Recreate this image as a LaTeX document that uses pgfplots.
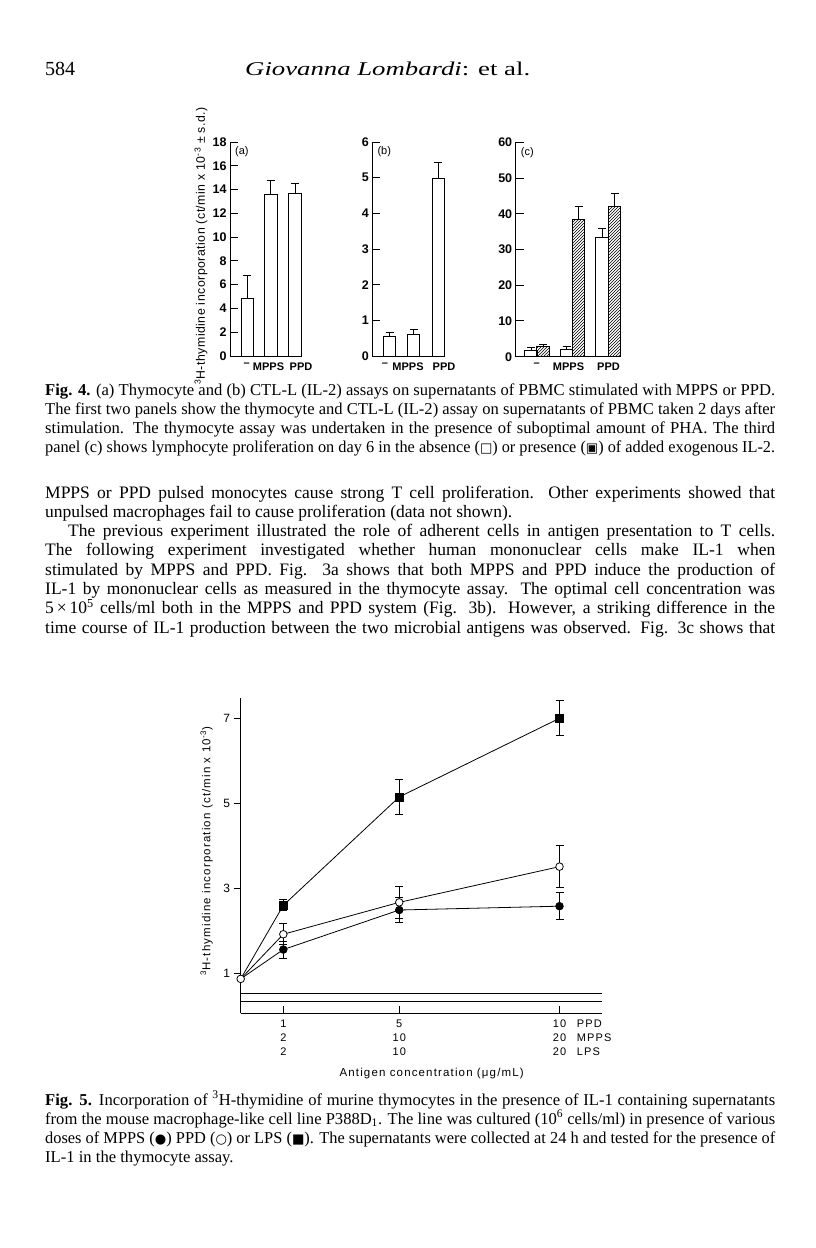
\documentclass[border=0pt]{standalone}
\usepackage{fontspec}
\setmainfont{Liberation Serif}
\newfontfamily\figfont{Liberation Sans}
\newfontfamily\figfontsp{Liberation Sans}[LetterSpace=10]
\newfontfamily\labfont{Liberation Sans}[LetterSpace=4]
\newfontfamily\symfont{DejaVu Sans}
\usepackage{graphicx}
\usepackage{pgfplots}
\pgfplotsset{compat=1.18}
\usetikzlibrary{patterns}

% justified line of a given width
\newsavebox\jbox
\newcommand\jline[2]{\sbox\jbox{#2}%
  \ifdim\wd\jbox>#1\relax\resizebox{#1}{\height}{\usebox\jbox}\else\makebox[#1][s]{#2}\fi}
\newcommand\bodyfont{\fontsize{17.5}{19}\selectfont}
\newcommand\capfont{\fontsize{16.6}{19}\selectfont}
\newcommand\sym[1]{{\symfont\scalebox{0.8}{#1}}}

\pgfplotsset{
  fig4/.style={
    scale only axis, anchor=south west,
    axis x line=bottom, axis y line=left,
    axis line style={-, line width=1pt},
    xmin=0, ymin=0, clip=false,
    tick align=inside, major tick length=8pt,
    ytick style={line width=1pt, black},
    xtick style={draw=none},
    /pgf/number format/assume math mode=true,
    yticklabel style={font=\figfont\bfseries\fontsize{12.5}{12}\selectfont},
    xticklabel style={font=\figfont\bfseries\fontsize{11}{11}\selectfont, yshift=-3pt},
    error bars/error bar style={line width=1pt},
    error bars/error mark options={line width=1pt, mark size=4pt, rotate=90},
  },
  bar/.style={ybar, bar shift=0pt, bar width=12.5, draw=black, line width=1pt},
  fig5/.style={
    scale only axis, anchor=south west,
    axis x line=bottom, axis y line=left,
    axis line style={-, line width=0.9pt},
    clip=false,
    tick align=outside, major tick length=7pt,
    ytick style={line width=0.9pt, black},
    xtick style={line width=0.9pt, black, yshift=7pt},
    /pgf/number format/assume math mode=true,
    yticklabel style={font=\figfont\fontsize{12}{12}\selectfont},
    xticklabel style={font=\figfontsp\fontsize{11}{14}\selectfont, align=center, yshift=4pt},
    error bars/error bar style={line width=1pt},
    error bars/error mark options={line width=1pt, mark size=4pt, rotate=90},
  },
}

\begin{document}
\begin{tikzpicture}
\begin{scope}[x=1pt,y=-1pt]
\fill[white] (0,0) rectangle (816,1248);
\path[use as bounding box] (0,0) rectangle (816,1248);

% running head
\node[anchor=base west, inner sep=0pt, font=\fontsize{20}{20}\selectfont] at (45,75) {584};
\node[anchor=base west, inner sep=0pt, font=\fontsize{19.5}{20}\selectfont] at (245,75) {\resizebox{285pt}{\height}{\textit{Giovanna Lombardi}: et al.}};

% caption of Fig. 4
\node[anchor=base west, inner sep=0pt, font=\capfont] at (45,395) {\jline{730pt}{\textbf{Fig. 4.} (a) Thymocyte and (b) CTL-L (IL-2) assays on supernatants of PBMC stimulated with MPPS or PPD.}};
\node[anchor=base west, inner sep=0pt, font=\capfont] at (45,414) {\jline{730pt}{The first two panels show the thymocyte and CTL-L (IL-2) assay on supernatants of PBMC taken 2 days after}};
\node[anchor=base west, inner sep=0pt, font=\capfont] at (45,433) {\jline{730pt}{stimulation. The thymocyte assay was undertaken in the presence of suboptimal amount of PHA. The third}};
\node[anchor=base west, inner sep=0pt, font=\capfont] at (45,452) {\jline{730pt}{panel (c) shows lymphocyte proliferation on day 6 in the absence (\sym{□}) or presence (\sym{▣}) of added exogenous IL-2.}};

% body text
\node[anchor=base west, inner sep=0pt, font=\bodyfont] at (45,498) {\jline{730pt}{MPPS or PPD pulsed monocytes cause strong T cell proliferation. Other experiments showed that}};
\node[anchor=base west, inner sep=0pt, font=\bodyfont] at (45,517.3) {unpulsed macrophages fail to cause proliferation (data not shown).};
\node[anchor=base west, inner sep=0pt, font=\bodyfont] at (68,536.6) {\jline{707pt}{The previous experiment illustrated the role of adherent cells in antigen presentation to T cells.}};
\node[anchor=base west, inner sep=0pt, font=\bodyfont] at (45,555.9) {\jline{730pt}{The following experiment investigated whether human mononuclear cells make IL-1 when}};
\node[anchor=base west, inner sep=0pt, font=\bodyfont] at (45,575.2) {\jline{730pt}{stimulated by MPPS and PPD. Fig. 3a shows that both MPPS and PPD induce the production of}};
\node[anchor=base west, inner sep=0pt, font=\bodyfont] at (45,594.5) {\jline{730pt}{IL-1 by mononuclear cells as measured in the thymocyte assay. The optimal cell concentration was}};
\node[anchor=base west, inner sep=0pt, font=\bodyfont] at (45,613.8) {\jline{730pt}{5\,×\,10\textsuperscript{5} cells/ml both in the MPPS and PPD system (Fig. 3b). However, a striking difference in the}};
\node[anchor=base west, inner sep=0pt, font=\bodyfont] at (45,633.1) {\jline{730pt}{time course of IL-1 production between the two microbial antigens was observed. Fig. 3c shows that}};

% caption of Fig. 5
\node[anchor=base west, inner sep=0pt, font=\capfont] at (45,1105) {\jline{730pt}{\textbf{Fig. 5.} Incorporation of \textsuperscript{3}H-thymidine of murine thymocytes in the presence of IL-1 containing supernatants}};
\node[anchor=base west, inner sep=0pt, font=\capfont] at (45,1124) {\jline{730pt}{from the mouse macrophage-like cell line P388D\textsubscript{1}. The line was cultured (10\textsuperscript{6} cells/ml) in presence of various}};
\node[anchor=base west, inner sep=0pt, font=\capfont] at (45,1143) {\jline{730pt}{doses of MPPS (\sym{●}) PPD (\sym{○}) or LPS (\sym{■}). The supernatants were collected at 24 h and tested for the presence of}};
\node[anchor=base west, inner sep=0pt, font=\capfont] at (45,1162) {IL-1 in the thymocyte assay.};

% dose names beside the last tick of Fig. 5
\node[anchor=base west, inner sep=0pt, font=\figfontsp\fontsize{11}{14}\selectfont] at (576.7,1027) {PPD};
\node[anchor=base west, inner sep=0pt, font=\figfontsp\fontsize{11}{14}\selectfont] at (576.7,1041) {MPPS};
\node[anchor=base west, inner sep=0pt, font=\figfontsp\fontsize{11}{14}\selectfont] at (576.7,1055) {LPS};
\end{scope}

% ---------- Fig. 4 (a) ----------
\begin{axis}[fig4, at={(230pt,-356pt)}, width=72pt, height=214pt,
    xmax=72, ymax=18, ytick={0,2,...,18},
    xtick={16.7,38.5,71}, xticklabels={–,MPPS,PPD},
    ylabel={\textsuperscript{3}H-thymidine incorporation (ct/min x 10\textsuperscript{-3} ± s.d.)},
    ylabel style={at={(axis description cs:0,0.514)}, anchor=center, yshift=29pt,
        font=\labfont\fontsize{12.3}{12}\selectfont}]
\addplot[bar, fill=white, error bars/.cd, y dir=plus, y explicit]
    coordinates {(17.3,4.85) +- (0,1.9) (40.8,13.55) +- (0,1.2) (65.2,13.7) +- (0,0.8)};
\node[anchor=north west, font=\figfont\fontsize{11}{11}\selectfont, inner sep=0pt]
    at (rel axis cs:0,1) [xshift=5pt, yshift=-4pt] {(a)};
\end{axis}

% ---------- Fig. 4 (b) ----------
\begin{axis}[fig4, at={(372.3pt,-356pt)}, width=72pt, height=214pt,
    xmax=72, ymax=6, ytick={0,1,...,6},
    xtick={12.7,35.7,71.7}, xticklabels={–,MPPS,PPD}]
\addplot[bar, fill=white, error bars/.cd, y dir=plus, y explicit]
    coordinates {(17.2,0.54) +- (0,0.12) (41.2,0.6) +- (0,0.13) (66,4.98) +- (0,0.45)};
\node[anchor=north west, font=\figfont\fontsize{11}{11}\selectfont, inner sep=0pt]
    at (rel axis cs:0,1) [xshift=5pt, yshift=-4pt] {(b)};
\end{axis}

% ---------- Fig. 4 (c) ----------
\begin{axis}[fig4, at={(515.7pt,-356.7pt)}, width=104.8pt, height=214.4pt,
    xmax=104.8, ymax=60, ytick={0,10,...,60},
    xtick={21,52.8,92.8}, xticklabels={–,MPPS,PPD}]
\addplot[bar, fill=white, error bars/.cd, y dir=plus, y explicit]
    coordinates {(15.3,1.7) +- (0,0.8) (51,2.1) +- (0,0.8) (86.3,33.3) +- (0,2.6)};
\addplot[bar, pattern=north east lines, error bars/.cd, y dir=plus, y explicit]
    coordinates {(27.3,2.8) +- (0,0.7) (63,38.5) +- (0,3.4) (98.8,41.9) +- (0,3.7)};
\node[anchor=north west, font=\figfont\fontsize{11}{11}\selectfont, inner sep=0pt]
    at (rel axis cs:0,1) [xshift=5pt, yshift=-5pt] {(c)};
\end{axis}

% ---------- Fig. 5 ----------
\begin{axis}[fig5, at={(240.7pt,-1013.3pt)}, width=361pt, height=315pt,
    xmin=0, xmax=8.47, ymin=0.06, ymax=7.47,
    ytick={1,3,5,7},
    xtick={1,3.72,7.48}, xticklabels={{1\\2\\2},{5\\10\\10},{10\\20\\20}},
    xlabel={Antigen concentration (μg/mL)},
    xlabel style={at={(axis description cs:0.529,0)}, anchor=center, yshift=-60pt,
        font=\figfontsp\fontsize{11.5}{12}\selectfont},
    ylabel={\textsuperscript{3}H-thymidine incorporation (ct/min x 10\textsuperscript{-3})},
    ylabel style={at={(axis description cs:0,0.515)}, anchor=center, yshift=34pt,
        font=\figfontsp\fontsize{11.5}{12}\selectfont}]
% control levels
\addplot[black, line width=0.9pt] coordinates {(0,0.53) (8.47,0.53)};
\addplot[black, line width=0.9pt] coordinates {(0,0.33) (8.47,0.33)};
% LPS
\addplot[black, line width=0.8pt, mark=square*, mark size=4pt, mark indices={2,3,4},
    mark options={solid, fill=black},
    error bars/.cd, y dir=both, y explicit]
    coordinates {(0,0.87) (1,2.6) +- (0,0.13) (3.72,5.15) +- (0,0.42) (7.48,7.0) +- (0,0.41)};
% MPPS
\addplot[black, line width=0.8pt, mark=*, mark size=3.8pt, mark indices={2,3,4},
    mark options={solid, fill=black},
    error bars/.cd, y dir=both, y explicit]
    coordinates {(0,0.87) (1,1.56) +- (0,0.2) (3.72,2.49) +- (0,0.3) (7.48,2.58) +- (0,0.32)};
% PPD
\addplot[black, line width=0.8pt, mark=*, mark size=3.8pt,
    mark options={solid, fill=white},
    error bars/.cd, y dir=both, y explicit]
    coordinates {(0,0.87) (1,1.92) +- (0,0.25) (3.72,2.67) +- (0,0.38) (7.48,3.51) +- (0,0.5)};
\end{axis}
\end{tikzpicture}
\end{document}
